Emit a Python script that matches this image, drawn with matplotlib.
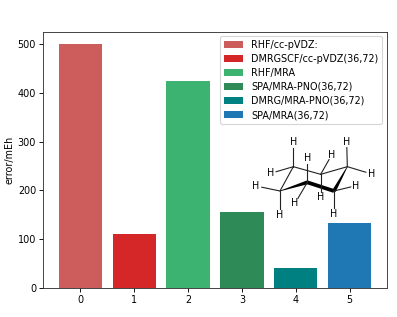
import matplotlib
matplotlib.use("Agg")
import matplotlib.pyplot as plt
from matplotlib.patches import Polygon

labels = ["RHF/cc-pVDZ:", "DMRGSCF/cc-pVDZ(36,72)", "RHF/MRA",
          "SPA/MRA-PNO(36,72)", "DMRG/MRA-PNO(36,72)", "SPA/MRA(36,72)"]
positions = [0, 1, 2, 3, 4, 5]
errors = [500, 110, 424, 155, 42, 133]
colors = ["#CD5C5C", "#D62728", "#3CB371", "#2E8B57", "#008080", "#1F77B4"]

W, H = 397, 317
FS = 8.7
fig = plt.figure(figsize=(W / 80, H / 80), dpi=80)
ax = fig.add_axes([43 / W, (H - 288) / H, 344 / W, 256 / H])
for x, v, c, l in zip(positions, errors, colors, labels):
    ax.bar(x, v, width=0.8, color=c, label=l)
ax.set_xlim(-0.69, 5.69)
ax.set_ylim(0, 525)
ax.set_xticks(positions)
ax.set_yticks([0, 100, 200, 300, 400, 500])
ax.tick_params(labelsize=FS, length=3.2, pad=3)
for s in ax.spines.values():
    s.set_color("#333333")
ax.set_ylabel("error/mEh", fontsize=FS, labelpad=3)
ax.legend(loc="upper right", fontsize=FS, bbox_to_anchor=(0.9855, 0.985), borderaxespad=0,
          labelspacing=0.42)

# cyclohexane sketch, in pixel coordinates of the reference
ov = fig.add_axes([0, 0, 1, 1], facecolor="none")
ov.set_xlim(0, W)
ov.set_ylim(H, 0)
ov.axis("off")
def P(x, y):
    return (230 + x / 3, 120 + y / 3)
C = [(150, 213), (232, 187), (312, 213), (352, 140), (272, 163), (190, 140)]
Hs = [[(78, 198), (150, 285)], [(232, 115), (195, 250)], [(378, 197), (312, 282)],
      [(425, 162), (350, 65)], [(305, 105), (272, 232)], [(122, 160), (190, 67)]]
for a, b in [(3, 4), (4, 5), (5, 0)]:
    ov.plot(*zip(P(*C[a]), P(*C[b])), color="#222222", lw=1.0, solid_capstyle="round")
for c, hh in zip(C, Hs):
    for h in hh:
        x0, y0 = P(*c)
        x1, y1 = P(*h)
        f = 0.76
        ov.plot([x0, x0 + f * (x1 - x0)], [y0, y0 + f * (y1 - y0)], color="#222222", lw=1.0)
        ov.text(x1, y1, "H", fontsize=FS, ha="center", va="center", color="k")
def wedge(a, b, w0, w1):
    x0, y0 = P(*a); x1, y1 = P(*b)
    dx, dy = x1 - x0, y1 - y0
    n = (dx * dx + dy * dy) ** 0.5
    ux, uy = -dy / n, dx / n
    ov.add_patch(Polygon([(x0 + ux * w0, y0 + uy * w0), (x1 + ux * w1, y1 + uy * w1),
                          (x1 - ux * w1, y1 - uy * w1), (x0 - ux * w0, y0 - uy * w0)],
                         closed=True, color="k", lw=0))
wedge(C[0], C[1], 0.3, 1.9)
wedge(C[1], C[2], 1.9, 1.9)
wedge(C[2], C[3], 1.9, 0.3)
fig.savefig("out.png", dpi=80)
